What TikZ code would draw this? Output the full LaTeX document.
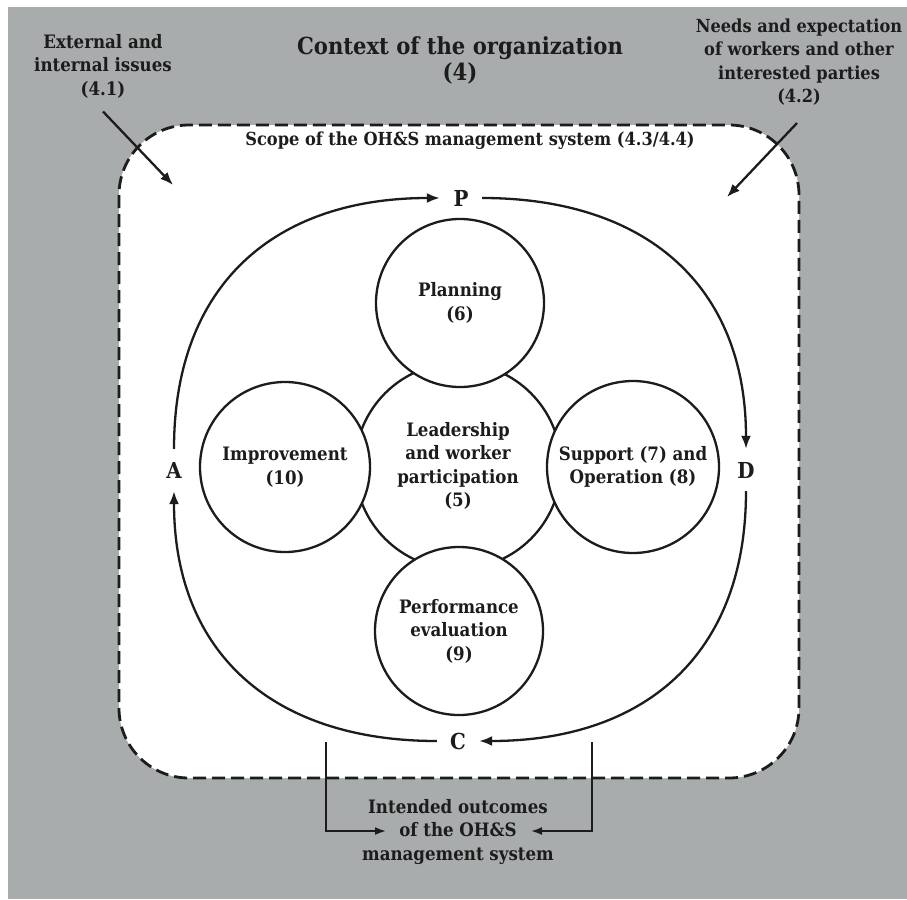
\documentclass[tikz,border=0pt]{standalone}
\usepackage{fontspec}
\setmainfont{DejaVu Serif Condensed}
\usetikzlibrary{arrows.meta}
\definecolor{bggray}{RGB}{169,172,173}
\definecolor{ink}{RGB}{28,28,28}
\begin{document}
\begin{tikzpicture}[x=1pt,y=-1pt,
  txt/.style={font=\bfseries\fontsize{18.5}{23.5}\selectfont, text=ink, align=center},
  phase/.style={circle, draw=ink, line width=2.3pt, fill=white, inner sep=0pt, txt},
  letter/.style={circle, inner sep=0pt, minimum size=42pt, font=\bfseries\fontsize{22}{24}\selectfont, text=ink},
  flow/.style={line width=2.3pt, draw=ink, -{Latex[length=13pt,width=10pt]}},
  thinflow/.style={line width=1.8pt, draw=ink, -{Latex[length=11pt,width=8pt]}},
]
\useasboundingbox (0,0) rectangle (907,899);
\fill[white] (0,0) rectangle (907,899);
\fill[bggray] (8,7) rectangle (907,899);
\draw[line width=2.8pt, dash pattern=on 13pt off 6pt, rounded corners=70pt, fill=white, draw=ink] (119,125) rectangle (799,778);

\node[txt, font=\bfseries\fontsize{23.5}{26}\selectfont] (ctx) at (460,60) {Context of the organization\\(4)};
\node[txt] (ext) at (103,66) {External and\\internal issues\\(4.1)};
\node[txt, font=\bfseries\fontsize{18}{23.5}\selectfont] (needs) at (799,62) {Needs and expectation\\of workers and other\\interested parties\\(4.2)};
\node[txt, font=\bfseries\fontsize{18}{20}\selectfont] (scope) at (470,141) {Scope of the OH\&S management system (4.3/4.4)};

\node[phase, minimum size=206pt] (lead) at (458,466) {Leadership\\and worker\\participation\\(5)};
\node[phase, minimum size=168pt] (plan) at (460,303) {Planning\\(6)};
\node[phase, minimum size=170pt] (impr) at (285,467) {Improvement\\(10)};
\node[phase, minimum size=172pt] (supp) at (633,467) {Support (7) and\\Operation (8)};
\node[phase, minimum size=168pt] (perf) at (459,631) {Performance\\evaluation\\(9)};

\node[letter] (P) at (461,198) {P};
\node[letter] (D) at (746,470) {D};
\node[letter] (C) at (458,741) {C};
\node[letter] (A) at (174,470) {A};

\draw[flow] (A) to[out=90,in=180,looseness=1.15] (P);
\draw[flow] (P) to[out=0,in=90,looseness=1.15] (D);
\draw[flow] (D) to[out=-90,in=0,looseness=1.15] (C);
\draw[flow] (C) to[out=180,in=-90,looseness=1.15] (A);

\coordinate (extTip) at (173,185);
\coordinate (needsTip) at (727,197);
\draw[flow] ([yshift=-10pt]ext.south) -- (extTip);
\draw[flow] ([xshift=-2pt,yshift=-14pt]needs.south) -- (needsTip);

\node[txt] (outc) at (458,832) {Intended outcomes\\of the OH\&S\\management system};
\coordinate (lTop) at (326,742);
\coordinate (lTip) at (386,831);
\coordinate (rTop) at (592,742);
\coordinate (rTip) at (531,831);
\draw[thinflow] (lTop) |- (lTip);
\draw[thinflow] (rTop) |- (rTip);
\end{tikzpicture}
\end{document}
